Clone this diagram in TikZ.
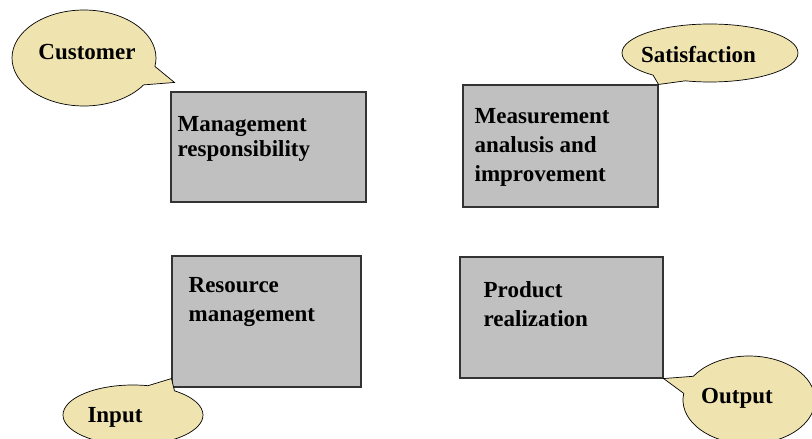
\documentclass[tikz,border=0pt]{standalone}
\usepackage{fontspec}
\setmainfont{Liberation Serif}
\usetikzlibrary{shapes.callouts,positioning}
\definecolor{boxgray}{RGB}{192,192,192}
\definecolor{bubble}{RGB}{239,227,176}
\tikzset{
%Define style for the process boxes
procbox/.style={draw=black!80, line width=1.1pt, fill=boxgray, inner sep=0pt},
%Define style for the text inside the boxes
boxtext/.style={anchor=north west, inner sep=0pt, align=left,
  font=\fontsize{23}{29}\selectfont\bfseries},
%Define style for the speech bubbles
bubble/.style={ellipse callout, draw=black, line width=0.7pt, fill=bubble,
  inner sep=0pt, callout pointer arc=24},
%Define style for the bubble text
bubbletext/.style={inner sep=0pt, font=\fontsize{23}{25}\selectfont\bfseries},
}

\begin{document}
\begin{tikzpicture}[x=1pt,y=-1pt]
    \useasboundingbox (0,0) rectangle (812,439);

    % Boxes
    \node[procbox, minimum width=195, minimum height=110] (mgmt) at (268.5,147) {};
    \node[procbox, minimum width=195, minimum height=122] (meas) at (560.5,146) {};
    \node[procbox, minimum width=189, minimum height=131] (res) at (266.5,321.5) {};
    \node[procbox, minimum width=203, minimum height=121] (prod) at (561.5,317.5) {};

    % Box texts
    \node[boxtext, font=\fontsize{23}{25}\selectfont\bfseries]
      (mgmttext) at ([shift={(7,25)}]mgmt.north west) {Management\\responsibility};
    \node[boxtext] (meastext) at ([shift={(12,24)}]meas.north west)
      {Measurement\\analusis and\\improvement};
    \node[boxtext] (restext) at ([shift={(17,22)}]res.north west)
      {Resource\\management};
    \node[boxtext] (prodtext) at ([shift={(24,24.5)}]prod.north west)
      {Product\\realization};

    % Speech bubbles pointing at the boxes
    \node[bubble, minimum width=144, minimum height=96,
      callout absolute pointer={([shift={(4,-9)}]mgmt.north west)},
      label={[bubbletext, xshift=3, yshift=6]center:Customer}]
      (customer) at (84,58) {};
    \node[bubble, minimum width=176, minimum height=58,
      callout absolute pointer={(meas.north east)},
      label={[bubbletext, xshift=-11.5, yshift=-1.5]center:Satisfaction}]
      (satisf) at (710,53) {};
    \node[bubble, minimum width=140, minimum height=60,
      callout absolute pointer={([shift={(0,-9)}]res.south west)},
      label={[bubbletext, xshift=-18, yshift=-2]center:Input}]
      (input) at (133,415) {};
    \node[bubble, minimum width=132, minimum height=88,
      callout absolute pointer={(prod.south east)},
      label={[bubbletext, xshift=-12, yshift=2]center:Output}]
      (output) at (749,400) {};
\end{tikzpicture}
\end{document}
